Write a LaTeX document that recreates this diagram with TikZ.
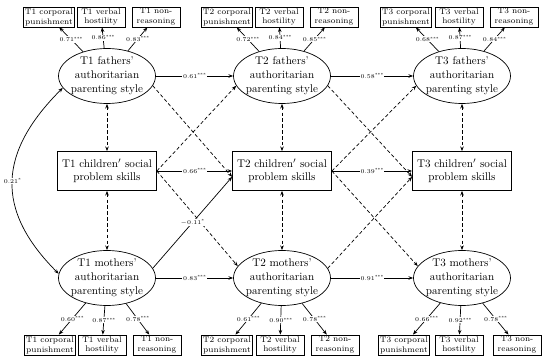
\documentclass[tikz,border=0pt]{standalone}
\usetikzlibrary{shapes.geometric, arrows.meta}
\newcommand{\sigmark}[1]{\raisebox{1.2pt}{\fontsize{3.6}{4}\selectfont#1}}
\begin{document}
\begin{tikzpicture}[x=0.03cm, y=0.03cm, line width=0.6pt, >={Stealth[length=4pt, width=3pt]},
    latent/.style={ellipse, draw, align=center, minimum width=2.91cm, minimum height=1.65cm, inner xsep=-2pt, inner ysep=0pt, font=\fontsize{9.5}{12}\selectfont},
    skill/.style={rectangle, draw, align=center, minimum width=2.97cm, minimum height=1.17cm, font=\fontsize{9.5}{11}\selectfont},
    item/.style={rectangle, draw, align=center, minimum width=1.44cm, minimum height=0.6cm, inner sep=1pt, font=\fontsize{7}{8.5}\selectfont},
    coef/.style={fill=white, inner sep=0.6pt, font=\fontsize{5}{6}\selectfont},
    dashline/.style={dash pattern=on 3pt off 2pt}]
            \useasboundingbox (0,0) rectangle (550,362);

            % Draw latent nodes
            \node[latent] (f1) at (107,286) {T1 fathers’\\authoritarian\\parenting style};
            \node[latent] (f2) at (282,286) {T2 fathers’\\authoritarian\\parenting style};
            \node[latent] (f3) at (462,286) {T3 fathers’\\authoritarian\\parenting style};
            \node[skill] (c1) at (107,191) {T1 children$'$ social\\problem skills};
            \node[skill] (c2) at (282,191) {T2 children$'$ social\\problem skills};
            \node[skill] (c3) at (462,191) {T3 children$'$ social\\problem skills};
            \node[latent] (m1) at (107,84) {T1 mothers’\\authoritarian\\parenting style};
            \node[latent] (m2) at (282,84) {T2 mothers’\\authoritarian\\parenting style};
            \node[latent] (m3) at (462,84) {T3 mothers’\\authoritarian\\parenting style};

            % Draw indicator nodes
            \node[item] (f1a) at (49,345) {T1 corporal\\punishment};
            \node[item] (f1b) at (101,345) {T1 verbal\\hostility};
            \node[item] (f1c) at (156,345) {T1 non-\\reasoning};
            \node[item] (f2a) at (227,345) {T2 corporal\\punishment};
            \node[item] (f2b) at (279,345) {T2 verbal\\hostility};
            \node[item] (f2c) at (334,345) {T2 non-\\reasoning};
            \node[item] (f3a) at (406,345) {T3 corporal\\punishment};
            \node[item] (f3b) at (459,345) {T3 verbal\\hostility};
            \node[item] (f3c) at (514,345) {T3 non-\\reasoning};
            \node[item] (m1a) at (50,17) {T1 corporal\\punishment};
            \node[item] (m1b) at (102,17) {T1 verbal\\hostility};
            \node[item] (m1c) at (157,17) {T1 non-\\reasoning};
            \node[item] (m2a) at (227,17) {T2 corporal\\punishment};
            \node[item] (m2b) at (280,17) {T2 verbal\\hostility};
            \node[item] (m2c) at (335,17) {T2 non-\\reasoning};
            \node[item] (m3a) at (404,17) {T3 corporal\\punishment};
            \node[item] (m3b) at (459,17) {T3 verbal\\hostility};
            \node[item] (m3c) at (517,17) {T3 non-\\reasoning};

            % Draw loadings
            \draw[->] (f1) -- (f1a) node[coef, midway] {0.71\sigmark{***}};
            \draw[->] (f1) -- (f1b) node[coef, midway] {0.86\sigmark{***}};
            \draw[->] (f1) -- (f1c) node[coef, midway] {0.83\sigmark{***}};
            \draw[->] (f2) -- (f2a) node[coef, midway] {0.72\sigmark{***}};
            \draw[->] (f2) -- (f2b) node[coef, midway] {0.84\sigmark{***}};
            \draw[->] (f2) -- (f2c) node[coef, midway] {0.85\sigmark{***}};
            \draw[->] (f3) -- (f3a) node[coef, midway] {0.68\sigmark{***}};
            \draw[->] (f3) -- (f3b) node[coef, midway] {0.87\sigmark{***}};
            \draw[->] (f3) -- (f3c) node[coef, midway] {0.84\sigmark{***}};
            \draw[->] (m1) -- (m1a) node[coef, midway] {0.60\sigmark{***}};
            \draw[->] (m1) -- (m1b) node[coef, midway] {0.87\sigmark{***}};
            \draw[->] (m1) -- (m1c) node[coef, midway] {0.78\sigmark{***}};
            \draw[->] (m2) -- (m2a) node[coef, midway] {0.61\sigmark{***}};
            \draw[->] (m2) -- (m2b) node[coef, midway] {0.90\sigmark{***}};
            \draw[->] (m2) -- (m2c) node[coef, midway] {0.78\sigmark{***}};
            \draw[->] (m3) -- (m3a) node[coef, midway] {0.66\sigmark{***}};
            \draw[->] (m3) -- (m3b) node[coef, midway] {0.92\sigmark{***}};
            \draw[->] (m3) -- (m3c) node[coef, midway] {0.78\sigmark{***}};

            % Draw covariances
            \draw[<->, dashline] (f1) -- (c1);
            \draw[<->, dashline] (c1) -- (m1);
            \draw[<->, dashline] (f2) -- (c2);
            \draw[<->, dashline] (c2) -- (m2);
            \draw[<->, dashline] (f3) -- (c3);
            \draw[<->, dashline] (c3) -- (m3);
            \draw[<->] (f1.195) to[out=225, in=135, looseness=1.25] node[coef] {0.21\sigmark{*}} (m1.175);

            % Draw paths T1 to T2
            \draw[->] (f1.east) -- (f2.west) node[coef, midway] {0.61\sigmark{***}};
            \draw[->, dashline] (f1.-12) -- ([yshift=-5pt]c2.west);
            \draw[->, dashline] (c1.east) -- (f2.192);
            \draw[->] (c1.east) -- (c2.west) node[coef, midway] {0.66\sigmark{***}};
            \draw[->, dashline] (c1.east) -- (m2.165);
            \draw[->] (m1.12) -- ([yshift=-5pt]c2.west) node[coef, midway] {$-$0.11\sigmark{*}};
            \draw[->] (m1.east) -- (m2.west) node[coef, midway] {0.83\sigmark{***}};

            % Draw paths T2 to T3
            \draw[->] (f2.east) -- (f3.west) node[coef, midway] {0.58\sigmark{***}};
            \draw[->, dashline] (f2.-12) -- ([yshift=-5pt]c3.west);
            \draw[->, dashline] (c2.east) -- (f3.192);
            \draw[->] (c2.east) -- (c3.west) node[coef, midway] {0.39\sigmark{***}};
            \draw[->, dashline] (c2.east) -- (m3.165);
            \draw[->, dashline] (m2.12) -- ([yshift=-5pt]c3.west);
            \draw[->] (m2.east) -- (m3.west) node[coef, midway] {0.91\sigmark{***}};
        \end{tikzpicture}
\end{document}
